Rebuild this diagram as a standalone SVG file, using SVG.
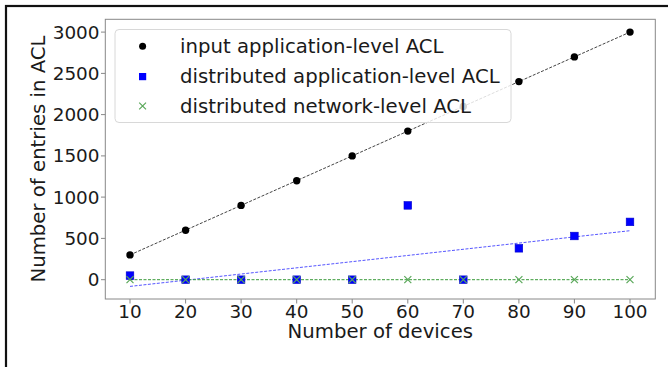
<svg xmlns="http://www.w3.org/2000/svg" width="668" height="367" viewBox="0 0 668 367">
<style>
text{font-family:"DejaVu Sans",sans-serif;fill:#1a1a1a}
.tick{font-size:18.4px}
.lab{font-size:19.7px}
.tk{stroke:#888;stroke-width:1}
.dot{fill:#000}
.sq{fill:#0000ff;stroke:#0000cc;stroke-width:0.6}
.xm{stroke:#5aa85a;stroke-width:1.2;fill:none}
</style>
<defs>
<circle id="d" r="3.7" class="dot"/>
<rect id="s" x="-3.8" y="-3.8" width="7.6" height="7.6" class="sq"/>
<path id="x" d="M-3.5-3.5L3.5 3.5M-3.5 3.5L3.5-3.5" class="xm"/>
</defs>
<rect width="668" height="367" fill="#fff"/>
<rect id="frame" x="6" y="6" width="700" height="400" fill="none" stroke="#111" stroke-width="2.2"/>
<g id="axes">
<rect x="105.3" y="19.3" width="550" height="279.7" fill="none" stroke="#888" stroke-width="1"/>
<g class="tk">
<path d="M101 279.7H105.3M101 238.4H105.3M101 197.1H105.3M101 155.9H105.3M101 114.6H105.3M101 73.4H105.3M101 32.1H105.3"/>
<path d="M130 299V303.5M185.6 299V303.5M241.1 299V303.5M296.7 299V303.5M352.2 299V303.5M407.8 299V303.5M463.3 299V303.5M518.9 299V303.5M574.4 299V303.5M630 299V303.5"/>
</g>
<g class="tick" text-anchor="end">
<text x="99.5" y="286.2">0</text>
<text x="99.5" y="244.9">500</text>
<text x="99.5" y="203.6">1000</text>
<text x="99.5" y="162.4">1500</text>
<text x="99.5" y="121.1">2000</text>
<text x="99.5" y="79.9">2500</text>
<text x="99.5" y="38.6">3000</text>
</g>
<g class="tick" text-anchor="middle">
<text x="130" y="318.3">10</text>
<text x="185.6" y="318.3">20</text>
<text x="241.1" y="318.3">30</text>
<text x="296.7" y="318.3">40</text>
<text x="352.2" y="318.3">50</text>
<text x="407.8" y="318.3">60</text>
<text x="463.3" y="318.3">70</text>
<text x="518.9" y="318.3">80</text>
<text x="574.4" y="318.3">90</text>
<text x="630" y="318.3">100</text>
</g>
<text class="lab" x="380.3" y="338.3" text-anchor="middle">Number of devices</text>
<text class="lab" transform="translate(44.5 159) rotate(-90)" text-anchor="middle">Number of entries in ACL</text>
</g>
<g id="connectors" fill="none" stroke-width="1" stroke-dasharray="3 1.5">
<path d="M130 254.9L630 32.1" stroke="#444"/>
<path d="M130 286.4L630 230.7" stroke="#5555ff"/>
<path d="M130 279.7H630" stroke="#3a9a3a"/>
</g>
<g id="series-input">
<use href="#d" x="130" y="254.9"/>
<use href="#d" x="185.6" y="230.2"/>
<use href="#d" x="241.1" y="205.4"/>
<use href="#d" x="296.7" y="180.7"/>
<use href="#d" x="352.2" y="155.9"/>
<use href="#d" x="407.8" y="131.1"/>
<use href="#d" x="463.3" y="106.4"/>
<use href="#d" x="518.9" y="81.6"/>
<use href="#d" x="574.4" y="56.9"/>
<use href="#d" x="630" y="32.1"/>
</g>
<g id="series-app">
<use href="#s" x="130" y="275.6"/>
<use href="#s" x="185.6" y="279.7"/>
<use href="#s" x="241.1" y="279.7"/>
<use href="#s" x="296.7" y="279.7"/>
<use href="#s" x="352.2" y="279.7"/>
<use href="#s" x="407.8" y="205.4"/>
<use href="#s" x="463.3" y="279.7"/>
<use href="#s" x="518.9" y="248.3"/>
<use href="#s" x="574.4" y="236"/>
<use href="#s" x="630" y="221.9"/>
</g>
<g id="series-net">
<use href="#x" x="130" y="279.7"/>
<use href="#x" x="185.6" y="279.7"/>
<use href="#x" x="241.1" y="279.7"/>
<use href="#x" x="296.7" y="279.7"/>
<use href="#x" x="352.2" y="279.7"/>
<use href="#x" x="407.8" y="279.7"/>
<use href="#x" x="463.3" y="279.7"/>
<use href="#x" x="518.9" y="279.7"/>
<use href="#x" x="574.4" y="279.7"/>
<use href="#x" x="630" y="279.7"/>
</g>
<g id="legend">
<rect x="115" y="29.5" width="396" height="93" rx="4" fill="#fff" fill-opacity="0.82" stroke="#d8d8d8" stroke-width="1"/>
<circle cx="142.6" cy="46.3" r="3.5" class="dot"/>
<rect x="139" y="73" width="7.2" height="7.2" fill="#0000ff"/>
<path d="M139.2 102.6L146 109.4M139.2 109.4L146 102.6" class="xm"/>
<text class="lab" x="180" y="52.8">input application-level ACL</text>
<text class="lab" x="180" y="82.8">distributed application-level ACL</text>
<text class="lab" x="180" y="112.8">distributed network-level ACL</text>
</g>
</svg>
